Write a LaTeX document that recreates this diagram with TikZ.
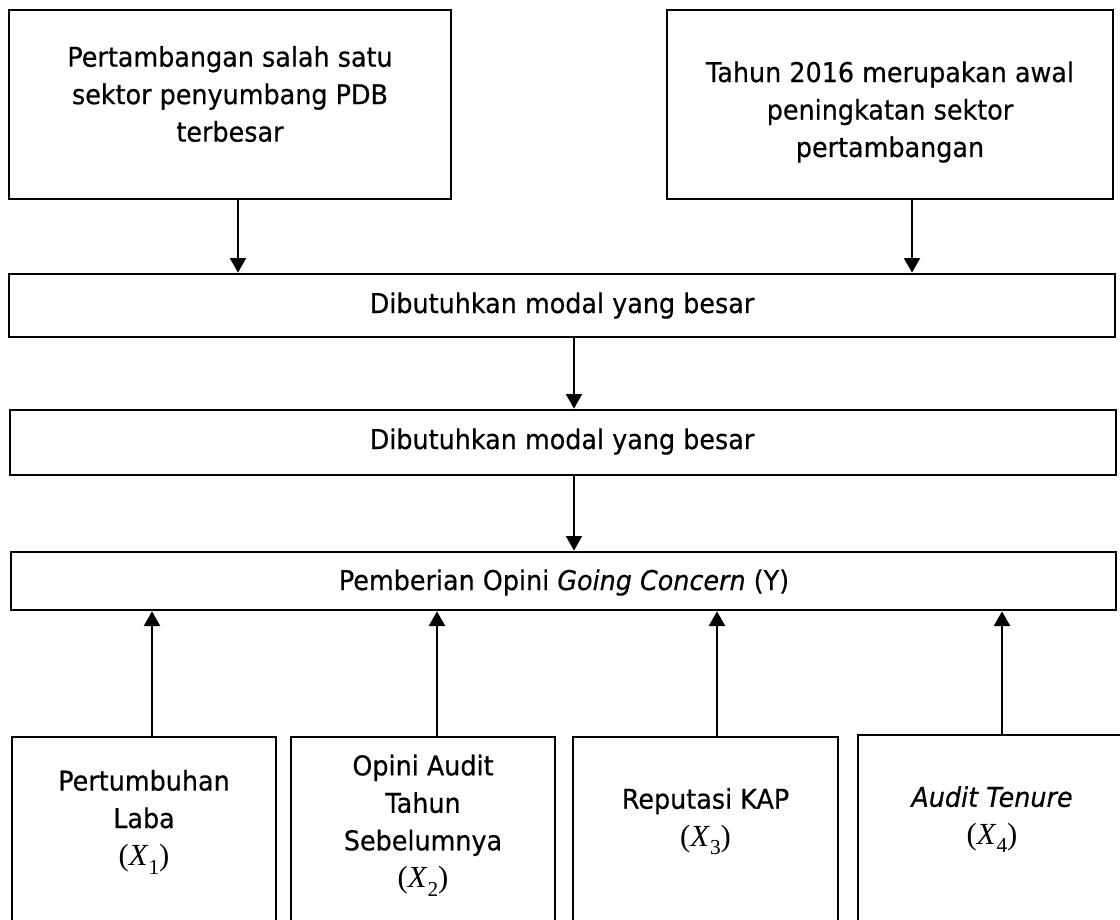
\documentclass[tikz,border=0pt]{standalone}
\usepackage{fontspec}
\setmainfont[FakeStretch=0.935,FakeBold=0.5]{DejaVu Sans}
\newfontfamily\serifx{Liberation Serif}
\newcommand{\xv}[1]{{\serifx\fontsize{23}{28.1}\selectfont(\textit{X}\raisebox{-0.28em}{\fontsize{16}{16}\selectfont #1})}}
\usetikzlibrary{arrows.meta,fit}
\begin{document}
\begin{tikzpicture}[x=0.75pt,y=-0.75pt,
  box/.style={draw, line width=2pt, inner sep=0pt, fit={#1}},
  txt/.style={inner sep=0pt, align=center, font=\fontsize{20.4}{28.1}\selectfont},
  arr/.style={line width=1.6pt, -{Triangle[width=12pt,length=11pt]}}]
\useasboundingbox (0,0) rectangle (1120,920);
\clip (0,0) rectangle (1120,920);
% boxes
\node[box={(9,10) (451,199)}] (tl) {};
\node[box={(667,10) (1113,199)}] (tr) {};
\node[box={(9,274) (1115,337)}] (m1) {};
\node[box={(10,410) (1116,475)}] (m2) {};
\node[box={(11,552) (1116,610)}] (m3) {};
\node[box={(12,737) (276,960)}] (b1) {};
\node[box={(291,737) (555,960)}] (b2) {};
\node[box={(573,737) (838,960)}] (b3) {};
\node[box={(858,735) (1127,960)}] (b4) {};
% texts
\node[txt] (tlt) at (230,94) {Pertambangan salah satu\\sektor penyumbang PDB\\terbesar};
\node[txt] (trt) at (890,112) {Tahun 2016 merupakan awal\\peningkatan sektor\\pertambangan};
\node[txt, anchor=base] (m1t) at (562,313) {Dibutuhkan modal yang besar};
\node[txt, anchor=base] (m2t) at (562,449) {Dibutuhkan modal yang besar};
\node[txt, anchor=base] (m3t) at (564,590) {Pemberian Opini \textit{Going Concern} (Y)};
\node[txt] (b1t) at (144,822) {Pertumbuhan\\Laba\\\xv{1}};
\node[txt] (b2t) at (423,825.5) {Opini Audit\\Tahun\\Sebelumnya\\\xv{2}};
\node[txt] (b3t) at (705.5,821.5) {Reputasi KAP\\\xv{3}};
\node[txt] (b4t) at (992,819.5) {\textit{Audit Tenure}\\\xv{4}};
% arrow columns
\coordinate (c1) at (238,0);
\coordinate (c2) at (912,0);
\coordinate (c3) at (574,0);
\coordinate (u1) at (152,0);
\coordinate (u2) at (437,0);
\coordinate (u3) at (717,0);
\coordinate (u4) at (1002,0);
% connectors
\draw[arr] (tl.south -| c1) -- (m1.north -| c1);
\draw[arr] (tr.south -| c2) -- (m1.north -| c2);
\draw[arr] (m1.south -| c3) -- (m2.north -| c3);
\draw[arr] (m2.south -| c3) -- (m3.north -| c3);
\draw[arr] (b1.north -| u1) -- (m3.south -| u1);
\draw[arr] (b2.north -| u2) -- (m3.south -| u2);
\draw[arr] (b3.north -| u3) -- (m3.south -| u3);
\draw[arr] (b4.north -| u4) -- (m3.south -| u4);
\end{tikzpicture}
\end{document}
